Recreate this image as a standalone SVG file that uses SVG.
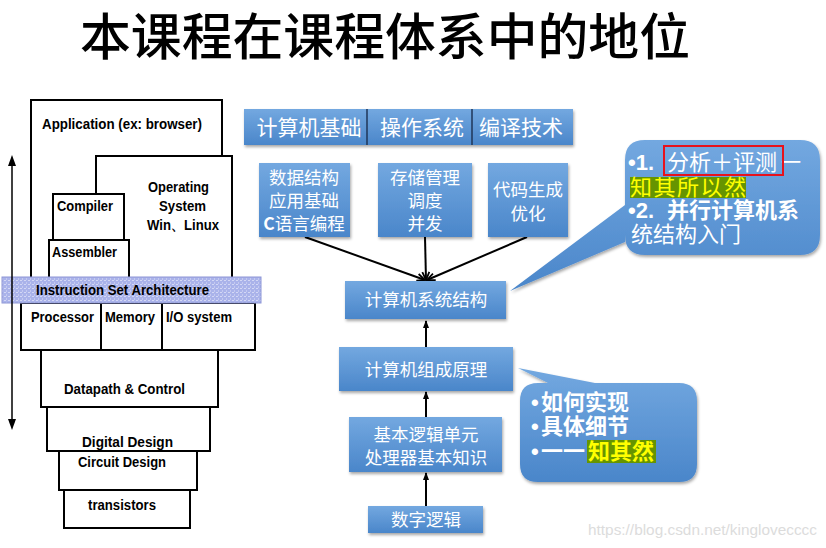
<svg xmlns="http://www.w3.org/2000/svg" width="826" height="548" viewBox="0 0 826 548">
<defs>
<linearGradient id="blue" x1="0" y1="0" x2="0" y2="1">
<stop offset="0" stop-color="#73a8e0"/>
<stop offset="1" stop-color="#4a86ca"/>
</linearGradient>
<filter id="sh" x="-10%" y="-10%" width="130%" height="140%">
<feDropShadow dx="1" dy="2" stdDeviation="1.5" flood-color="#000" flood-opacity="0.35"/>
</filter>
<pattern id="dots" width="4" height="4" patternUnits="userSpaceOnUse">
<rect width="4" height="4" fill="#aab3ea"/>
<rect x="0" y="0" width="2" height="1" fill="#d4d8f5"/>
<rect x="2" y="2" width="1" height="2" fill="#c4c9f0"/>
</pattern>
<marker id="ah" markerWidth="10" markerHeight="10" refX="9" refY="5" orient="auto" markerUnits="userSpaceOnUse">
<path d="M1,1.5 L9,5 L1,8.5" fill="none" stroke="#000" stroke-width="1.8"/>
</marker>
<marker id="ak" markerWidth="8" markerHeight="8" refX="7" refY="4" orient="auto" markerUnits="userSpaceOnUse">
<path d="M0,1 L8,4 L0,7 Z" fill="#000"/>
</marker>
</defs>
<style>
.lt{font-family:"Liberation Sans",Arial,sans-serif;font-weight:bold;font-size:14px;fill:#000}
.box{fill:url(#blue);filter:url(#sh)}
.wt{font-family:"Noto Sans CJK SC",sans-serif;fill:#fff;font-size:17.5px;text-anchor:middle}
.cw{font-family:"Noto Sans CJK SC",sans-serif;fill:#fff;font-size:22px;font-weight:bold}
.cn{font-family:"Noto Sans CJK SC",sans-serif;fill:#fff;font-size:22px}
.bl{font-family:"Liberation Sans",Arial,sans-serif;fill:#fff;font-size:22px;font-weight:bold}
.cy{font-family:"Noto Sans CJK SC",sans-serif;fill:#ffff00;font-size:22px}
.ln{fill:none;stroke:#000;stroke-width:2}
.hl{fill:#669400}
.conn{stroke:#000;stroke-width:2;fill:none}
</style>

<text x="80" y="55" font-family="'Noto Sans CJK SC',sans-serif" font-size="50" font-weight="500" fill="#000" textLength="610" lengthAdjust="spacingAndGlyphs">本课程在课程体系中的地位</text>

<g id="layers">
<path class="ln" d="M31,277 V100 H222 V156"/>
<path class="ln" d="M96,194 V156 H232 V277"/>
<rect class="ln" x="53" y="194" width="71" height="46" fill="#fff"/>
<path class="ln" d="M49,277 V240 H129 V277"/>
<rect class="ln" x="21" y="303" width="234" height="47" fill="#fff"/>
<line class="ln" x1="101" y1="303" x2="101" y2="350"/>
<line class="ln" x1="162" y1="303" x2="162" y2="350"/>
<rect class="ln" x="41" y="350" width="177" height="57" fill="#fff"/>
<rect class="ln" x="47" y="407" width="163" height="44" fill="#fff"/>
<rect class="ln" x="59" y="451" width="138" height="39" fill="#fff"/>
<rect class="ln" x="64" y="490" width="126" height="38" fill="#fff"/>
<rect x="2" y="277" width="259" height="26" fill="url(#dots)" stroke="#8d96d6" stroke-width="1"/>
<line x1="12" y1="165" x2="12" y2="420" stroke="#000" stroke-width="1.5"/>
<path d="M12,155 L8,166 L16,166 Z" fill="#000"/>
<path d="M12,430 L8,419 L16,419 Z" fill="#000"/>
<text class="lt" x="42" y="129" textLength="160" lengthAdjust="spacingAndGlyphs">Application (ex: browser)</text>
<text class="lt" x="148" y="192" textLength="61" lengthAdjust="spacingAndGlyphs">Operating</text>
<text class="lt" x="159" y="211" textLength="47" lengthAdjust="spacingAndGlyphs">System</text>
<text class="lt" x="147" y="230" textLength="72" lengthAdjust="spacingAndGlyphs">Win、Linux</text>
<text class="lt" x="57" y="211" textLength="56" lengthAdjust="spacingAndGlyphs">Compiler</text>
<text class="lt" x="52" y="257" textLength="65" lengthAdjust="spacingAndGlyphs">Assembler</text>
<text class="lt" x="36" y="295" textLength="173" lengthAdjust="spacingAndGlyphs">Instruction Set Architecture</text>
<text class="lt" x="31" y="322" textLength="63" lengthAdjust="spacingAndGlyphs">Processor</text>
<text class="lt" x="105" y="322" textLength="50" lengthAdjust="spacingAndGlyphs">Memory</text>
<text class="lt" x="166" y="322" textLength="66" lengthAdjust="spacingAndGlyphs">I/O system</text>
<text class="lt" x="64" y="394" textLength="121" lengthAdjust="spacingAndGlyphs">Datapath &amp; Control</text>
<text class="lt" x="82" y="447" textLength="91" lengthAdjust="spacingAndGlyphs">Digital  Design</text>
<text class="lt" x="78" y="467" textLength="88" lengthAdjust="spacingAndGlyphs">Circuit Design</text>
<text class="lt" x="88" y="510" textLength="68" lengthAdjust="spacingAndGlyphs">transistors</text>
</g>

<g id="connectors">
<line class="conn" x1="305" y1="237" x2="425" y2="280" marker-end="url(#ah)"/>
<line class="conn" x1="425" y1="237" x2="426" y2="280" marker-end="url(#ah)"/>
<line class="conn" x1="527" y1="237" x2="427" y2="280" marker-end="url(#ah)"/>
<line class="conn" x1="426" y1="347" x2="426" y2="321" marker-end="url(#ak)"/>
<line class="conn" x1="426" y1="417" x2="426" y2="392" marker-end="url(#ak)"/>
<line class="conn" x1="426" y1="506" x2="426" y2="473" marker-end="url(#ak)"/>
</g>

<g id="topbar">
<rect class="box" x="244" y="109" width="329" height="36"/>
<line x1="367" y1="109" x2="367" y2="145" stroke="#1f3658" stroke-width="1.5"/>
<line x1="472" y1="109" x2="472" y2="145" stroke="#1f3658" stroke-width="1.5"/>
<text class="wt" x="309" y="135" style="font-size:21px">计算机基础</text>
<text class="wt" x="422" y="135" style="font-size:21px">操作系统</text>
<text class="wt" x="521" y="135" style="font-size:21px">编译技术</text>
</g>

<g id="ds">
<rect class="box" x="259" y="163" width="91" height="74"/>
<text class="wt" x="304" y="184">数据结构</text>
<text class="wt" x="304" y="207">应用基础</text>
<text class="wt" x="304" y="230"><tspan font-weight="bold">C</tspan>语言编程</text>
</g>
<g id="os">
<rect class="box" x="378" y="163" width="94" height="74"/>
<text class="wt" x="425" y="184">存储管理</text>
<text class="wt" x="425" y="207">调度</text>
<text class="wt" x="425" y="230">并发</text>
</g>
<g id="cc">
<rect class="box" x="488" y="163" width="80" height="74"/>
<text class="wt" x="528" y="196">代码生成</text>
<text class="wt" x="528" y="220">优化</text>
</g>
<g id="arch">
<rect class="box" x="345" y="281" width="161" height="38"/>
<text class="wt" x="426" y="306">计算机系统结构</text>
</g>
<g id="org">
<rect class="box" x="339" y="347" width="174" height="44"/>
<text class="wt" x="426" y="376">计算机组成原理</text>
</g>
<g id="logic">
<rect class="box" x="349" y="417" width="153" height="55"/>
<text class="wt" x="426" y="441">基本逻辑单元</text>
<text class="wt" x="426" y="464">处理器基本知识</text>
</g>
<g id="digital">
<rect class="box" x="368" y="506" width="115" height="27"/>
<text class="wt" x="426" y="526">数字逻辑</text>
</g>

<g id="callout1">
<path class="box" d="M645,140 H800 Q820,140 820,160 V235 Q820,255 800,255 H645 Q625,255 625,235 V242 L510,291 L625,205 V160 Q625,140 645,140 Z"/>
<text class="bl" x="628" y="170">•1.</text>
<text class="cn" x="667" y="170">分析＋评测</text>
<text class="cn" x="781" y="170" style="font-size:20px">一</text>
<rect x="664" y="146" width="119" height="29" fill="none" stroke="#e8121c" stroke-width="2"/>
<rect class="hl" x="630" y="177" width="116" height="21"/>
<text class="cy" x="630" y="195" textLength="116">知其所以然</text>
<text class="bl" x="628" y="218">•2.</text>
<text class="cw" x="667" y="218">并行计算机系</text>
<text class="cn" x="631" y="242">统结构入门</text>
</g>

<g id="callout2">
<path class="box" d="M538,383 H548 L518,368 L595,383 H679 Q697,383 697,401 V464 Q697,482 679,482 H538 Q520,482 520,464 V401 Q520,383 538,383 Z"/>
<text class="bl" x="531" y="410">•</text>
<text class="cw" x="541" y="410">如何实现</text>
<text class="bl" x="531" y="434">•</text>
<text class="cw" x="541" y="434">具体细节</text>
<rect class="hl" x="587" y="440" width="69" height="23"/>
<text class="bl" x="531" y="459">•</text>
<text class="cw" x="541" y="459">一一</text>
<text class="cy" x="588" y="459" style="font-weight:bold">知其然</text>
</g>

<text x="588" y="535" font-family="'Liberation Sans',Arial,sans-serif" font-size="15" fill="#dcdcdc" textLength="229" lengthAdjust="spacingAndGlyphs">https://blog.csdn.net/kinglovecccc</text>
</svg>
